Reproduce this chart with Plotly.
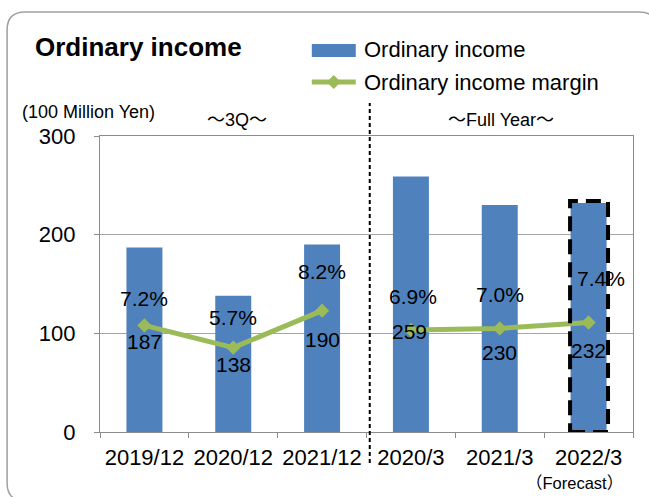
import plotly.graph_objects as go

# ---- data ----
categories = ["2019/12", "2020/12", "2021/12", "2020/3", "2021/3", "2022/3"]
ordinary_income = [187, 138, 190, 259, 230, 232]          # 100 million yen
income_margin = [7.2, 5.7, 8.2, 6.9, 7.0, 7.4]            # %
y_ticks = [0, 100, 200, 300]

# ---- styling / label offsets (pixels) ----
pct_offsets = [(0, 27), (0, 30), (0, 39), (2, 33), (0, 34), (12, 44)]
inc_offsets = [(0, -16), (0, -17), (0, -29), (-1, -2), (0, -24), (0, -28)]

W, H = 649, 497
ML, MR, MT, MB = 100, 15.5, 136, 65
PW, PH = W - ML - MR, H - MT - MB
FONT = "Liberation Sans, Arial, Noto Sans CJK JP, sans-serif"
BAR_C = "#4f81bd"
LINE_C = "#9bbb59"
AX_C = "#8c8c8c"
GRID_C = "#a6a6a6"


def px(x):
    return (x - ML) / PW


def py(y):
    return (H - MB - y) / PH


fig = go.Figure()
fig.add_trace(go.Bar(
    x=categories, y=ordinary_income, marker_color=BAR_C, marker_line_width=0,
    name="Ordinary income", showlegend=False, hoverinfo="x+y"))

for sl in (slice(0, 3), slice(3, 6)):
    fig.add_trace(go.Scatter(
        x=categories[sl], y=income_margin[sl], yaxis="y2", mode="lines+markers",
        line=dict(color=LINE_C, width=5),
        marker=dict(symbol="diamond", size=11, color=LINE_C),
        name="Ordinary income margin", showlegend=False))

ann = []
for c, m, v, po, io in zip(categories, income_margin, ordinary_income, pct_offsets, inc_offsets):
    ann.append(dict(x=c, y=m, xref="x", yref="y2", text=f"{m:.1f}%", showarrow=False,
                    xshift=po[0], yshift=po[1], font=dict(size=21, color="black", family=FONT)))
    ann.append(dict(x=c, y=m, xref="x", yref="y2", text=str(v), showarrow=False,
                    xshift=io[0], yshift=io[1], font=dict(size=21, color="black", family=FONT)))

def txt(t, x, y, size, xanchor="center", bold=False):
    return dict(x=px(x), y=py(y), xref="paper", yref="paper", text=(f"<b>{t}</b>" if bold else t),
                showarrow=False, xanchor=xanchor, yanchor="middle",
                font=dict(size=size, color="black", family=FONT))

ann += [
    txt("Ordinary income", 33, 47, 26, "left", bold=True),
    txt("Ordinary income", 362, 50, 22, "left"),
    txt("Ordinary income margin", 362, 82, 22, "left"),
    txt("(100 Million Yen)", 88.5, 112, 18),
    txt("～3Q～", 237, 120, 18),
    txt("～Full Year～", 501, 120, 18),
    txt("（Forecast）", 575, 483, 16.5),
]

def P(x, y):
    return f"{px(x):.5f},{py(y):.5f}"

r = 18
L, T, R, B = 7, 12, 658, 501
border = (f"M{P(L + r, T)} L{P(R - r, T)} Q{P(R, T)} {P(R, T + r)} L{P(R, B - r)} "
          f"Q{P(R, B)} {P(R - r, B)} L{P(L + r, B)} Q{P(L, B)} {P(L, B - r)} "
          f"L{P(L, T + r)} Q{P(L, T)} {P(L + r, T)} Z")

shapes = [
    dict(type="path", path=border, xref="paper", yref="paper",
         line=dict(color="#a0a0a0", width=1.5), layer="above"),
    # legend swatches
    dict(type="rect", xref="paper", yref="paper", x0=px(312), x1=px(356), y0=py(57), y1=py(44),
         fillcolor=BAR_C, line_width=0),
    dict(type="line", xref="paper", yref="paper", x0=px(312), x1=px(356), y0=py(82), y1=py(82),
         line=dict(color=LINE_C, width=5)),
    dict(type="path", xref="paper", yref="paper",
         path=f"M{P(327, 82)} L{P(334, 75)} L{P(341, 82)} L{P(334, 89)} Z",
         fillcolor=LINE_C, line_width=0),
    # period separator
    dict(type="line", xref="paper", yref="paper", x0=px(370), x1=px(370), y0=py(463), y1=py(103),
         line=dict(color="black", width=2, dash="4px,3px")),
    # forecast box
    dict(type="rect", xref="paper", yref="y", x0=px(570.5), x1=px(608.5), y0=0,
         y1=ordinary_income[-1] + 2, line=dict(color="black", width=4, dash="15px,8px"),
         layer="above"),
]

fig.update_layout(
    width=W, height=H, margin=dict(l=ML, r=MR, t=MT, b=MB),
    paper_bgcolor="white", plot_bgcolor="white",
    bargap=0.595, showlegend=False,
    font=dict(family=FONT, color="black"),
    xaxis=dict(type="category", categoryorder="array", categoryarray=categories,
               range=[-0.5, 5.5], tickson="boundaries", ticks="outside", ticklen=5,
               tickcolor=AX_C, showline=True, linecolor=AX_C, linewidth=1.3, mirror=True,
               showgrid=False, ticklabelstandoff=5,
               tickfont=dict(size=22, color="black", family=FONT)),
    yaxis=dict(range=[0, 300], tickvals=y_ticks, ticks="outside", ticklen=5, tickcolor=AX_C,
               showline=True, linecolor=AX_C, linewidth=1.3, mirror=True,
               showgrid=True, gridcolor=GRID_C, gridwidth=1.3, zeroline=False,
               ticklabelstandoff=14, tickfont=dict(size=22, color="black", family=FONT)),
    yaxis2=dict(overlaying="y", range=[0, 20], visible=False),
    annotations=ann, shapes=shapes,
)

fig.write_html("out.html", config={"displayModeBar": False},
               post_script="document.body.style.margin='0px';document.body.style.overflow='hidden';")
